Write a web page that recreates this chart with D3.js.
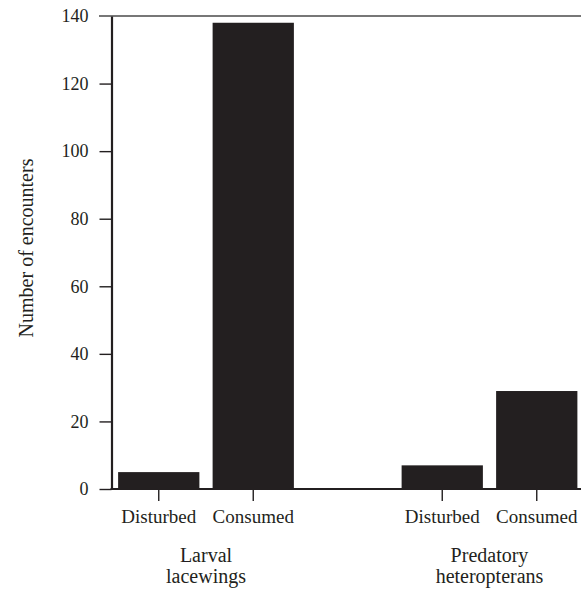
<!DOCTYPE html>
<html>
<head>
<meta charset="utf-8">
<script src="https://cdn.jsdelivr.net/npm/d3@7"></script>
<style>
  body { margin: 0; background: #fff; }
  text { font-family: "Liberation Serif", "DejaVu Serif", serif; fill: #231f20; }
</style>
</head>
<body>
<script>
var width = 581;
var height = 589;

// data
var groups = ["Larval|lacewings", "Predatory|heteropterans"];
var outcomes = ["Disturbed", "Consumed"];
var larvalLacewings = [5, 138];
var predatoryHeteropterans = [7, 29];
var yTicks = [0, 20, 40, 60, 80, 100, 120, 140];

var rows = [];
outcomes.forEach(function(o, i) { rows.push({key: "g0-" + o, group: 0, label: o, value: larvalLacewings[i]}); });
outcomes.forEach(function(o, i) { rows.push({key: "g1-" + o, group: 1, label: o, value: predatoryHeteropterans[i]}); });

var slots = ["g0-Disturbed", "g0-Consumed", "gap", "g1-Disturbed", "g1-Consumed"];

var svg = d3.select("body")
    .append("svg")
    .attr("width", width)
    .attr("height", height);

var plotLeft = 111.5, plotRight = 584, plotTop = 16, plotBottom = 489;
var ink = "#231f20";

var x = d3.scaleBand()
    .domain(slots)
    .range([plotLeft, plotRight])
    .paddingInner(0.14)
    .paddingOuter(0.07);

var y = d3.scaleLinear()
    .domain([0, 140])
    .range([plotBottom, plotTop]);

// top frame line
svg.append("line")
    .attr("x1", 99).attr("x2", width)
    .attr("y1", y(140)).attr("y2", y(140))
    .attr("stroke", "#4a4a4a")
    .attr("stroke-width", 1.6);

// bars
svg.selectAll("rect.bar")
    .data(rows)
    .enter().append("rect")
    .attr("class", "bar")
    .attr("x", function(d) { return x(d.key); })
    .attr("width", x.bandwidth())
    .attr("y", function(d) { return y(d.value); })
    .attr("height", function(d) { return y(0) - y(d.value); })
    .attr("fill", ink);

// y axis
var yAxis = d3.axisLeft(y)
    .tickValues(yTicks)
    .tickSize(12)
    .tickPadding(11)
    .tickSizeOuter(0);

var gy = svg.append("g")
    .attr("transform", "translate(" + plotLeft + ",0)")
    .call(yAxis);
gy.select(".domain").attr("stroke", ink).attr("stroke-width", 2.2);
gy.selectAll(".tick line").attr("stroke", ink).attr("stroke-width", 1.4);
gy.selectAll(".tick text")
    .attr("font-size", 18)
    .attr("font-family", "Liberation Serif")
    .attr("fill", ink);
gy.selectAll(".tick").filter(function(d) { return d === 140; }).select("line").remove();

// x axis baseline
svg.append("line")
    .attr("x1", plotLeft - 1).attr("x2", width)
    .attr("y1", y(0)).attr("y2", y(0))
    .attr("stroke", ink)
    .attr("stroke-width", 2.2);

// x ticks and labels
var xt = svg.selectAll("g.xt")
    .data(rows)
    .enter().append("g")
    .attr("class", "xt")
    .attr("transform", function(d) { return "translate(" + (x(d.key) + x.bandwidth() / 2) + "," + y(0) + ")"; });
xt.append("line")
    .attr("y1", 1).attr("y2", 12)
    .attr("stroke", ink)
    .attr("stroke-width", 1.4);
xt.append("text")
    .attr("y", 34)
    .attr("text-anchor", "middle")
    .attr("font-size", 19)
    .text(function(d) { return d.label; });

// group labels
groups.forEach(function(g, gi) {
    var a = x("g" + gi + "-" + outcomes[0]);
    var b = x("g" + gi + "-" + outcomes[1]) + x.bandwidth();
    var t = svg.append("text")
        .attr("x", (a + b) / 2)
        .attr("y", 562)
        .attr("text-anchor", "middle")
        .attr("font-size", 20);
    g.split("|").forEach(function(line, li) {
        t.append("tspan")
            .attr("x", (a + b) / 2)
            .attr("dy", li === 0 ? 0 : 21)
            .text(line);
    });
});

// y axis title
svg.append("text")
    .attr("transform", "translate(33,248) rotate(-90)")
    .attr("text-anchor", "middle")
    .attr("font-size", 20)
    .text("Number of encounters");
</script>
</body>
</html>
